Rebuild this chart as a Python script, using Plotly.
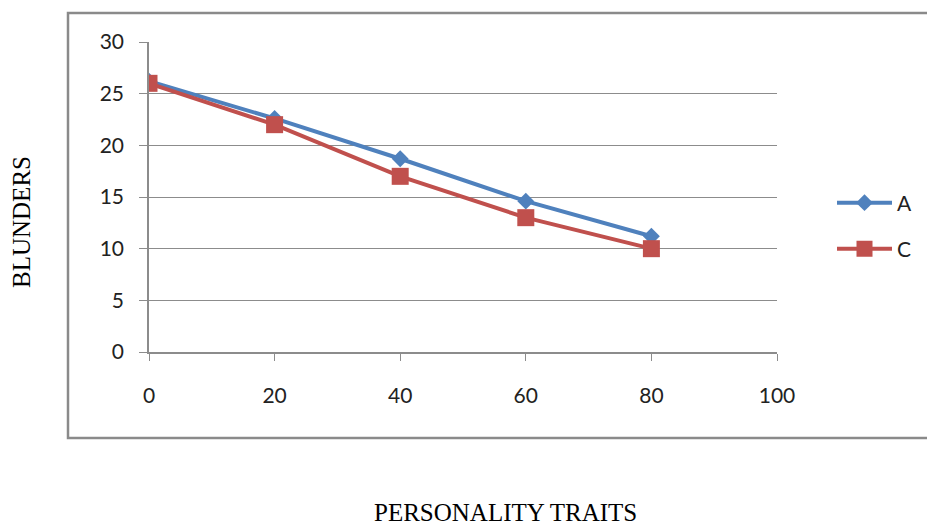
import plotly.graph_objects as go

x_vals = [0, 20, 40, 60, 80]
series_a = [26.2, 22.6, 18.7, 14.6, 11.2]
series_c = [26.0, 22.0, 17.0, 13.0, 10.0]
y_ticks = [0, 5, 10, 15, 20, 25, 30]
x_ticks = [0, 20, 40, 60, 80, 100]

W, H = 927, 528
L, R, T, B = 149, 150, 42, 176
pw, ph = W - L - R, H - T - B

def px2x(px):
    return (px - L) / pw

def py2y(py):
    return (H - B - py) / ph

BLUE = "#4F81BD"
RED = "#C0504D"
GRID = "#8C8C8C"
TICKFONT = dict(family="Lato, Open Sans, sans-serif", size=21, color="#222222")

fig = go.Figure()
fig.add_trace(go.Scatter(x=x_vals, y=series_a, name="A", mode="lines+markers",
                         line=dict(color=BLUE, width=4),
                         marker=dict(symbol="diamond", size=13, color=BLUE),
                         legend="legend"))
fig.add_trace(go.Scatter(x=x_vals, y=series_c, name="C", mode="lines+markers",
                         line=dict(color=RED, width=4),
                         marker=dict(symbol="square", size=17, color=RED),
                         legend="legend2"))

LEGFONT = dict(family="Lato, Open Sans, sans-serif", size=21, color="#222222")
fig.update_layout(
    width=W, height=H,
    margin=dict(l=L, r=R, t=T, b=B, autoexpand=False),
    paper_bgcolor="white", plot_bgcolor="white",
    xaxis=dict(range=[0, 100], tickvals=x_ticks, showgrid=False,
               showline=True, linecolor=GRID, linewidth=1.5,
               ticks="outside", ticklen=7, tickcolor=GRID,
               tickfont=TICKFONT, ticklabelstandoff=17, zeroline=False,
               fixedrange=True),
    yaxis=dict(range=[0, 30], tickvals=y_ticks, showgrid=True,
               gridcolor=GRID, gridwidth=1,
               showline=True, linecolor=GRID, linewidth=1.5,
               ticks="outside", ticklen=8, tickcolor=GRID,
               tickfont=TICKFONT, ticklabelstandoff=11, zeroline=False,
               fixedrange=True),
    legend=dict(x=px2x(832), y=py2y(203), xanchor="left", yanchor="middle",
                font=LEGFONT, itemwidth=55, bgcolor="rgba(0,0,0,0)"),
    legend2=dict(x=px2x(832), y=py2y(249), xanchor="left", yanchor="middle",
                 font=LEGFONT, itemwidth=55, bgcolor="rgba(0,0,0,0)"),
    showlegend=True,
)

# outer chart border
fig.add_shape(type="rect", xref="paper", yref="paper",
              x0=px2x(68), x1=px2x(935), y0=py2y(438), y1=py2y(13),
              line=dict(color="#8A8A8A", width=2.5), layer="below")

TITLEFONT = dict(family="Liberation Serif, Times New Roman, serif", size=25, color="#000000")
fig.add_annotation(text="BLUNDERS", xref="paper", yref="paper",
                   x=px2x(22), y=py2y(222), xanchor="center", yanchor="middle",
                   textangle=-90, showarrow=False, font=TITLEFONT)
fig.add_annotation(text="PERSONALITY TRAITS", xref="paper", yref="paper",
                   x=px2x(505), y=py2y(512), xanchor="center", yanchor="middle",
                   showarrow=False, font=TITLEFONT)

fig.write_html("out.html")
